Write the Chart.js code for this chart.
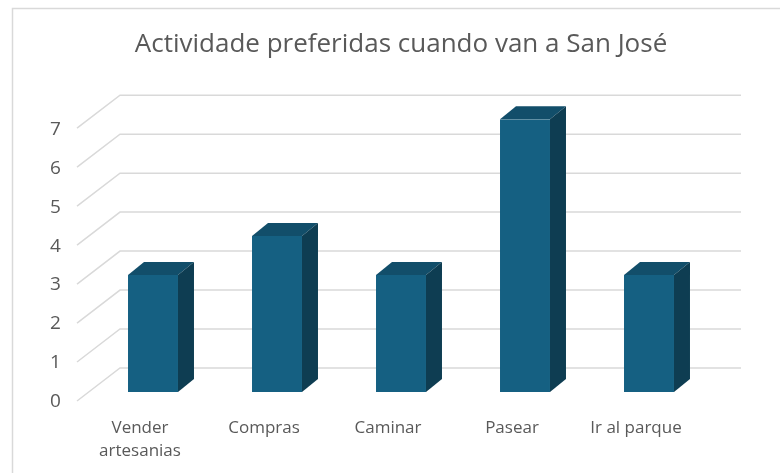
<!DOCTYPE html>
<html>
<head>
<meta charset="utf-8">
<script src="https://cdn.jsdelivr.net/npm/chart.js@4"></script>
<style>
  html, body { margin: 0; padding: 0; background: #ffffff; }
  #wrap { width: 780px; height: 473px; position: relative; }
</style>
</head>
<body>
<div id="wrap"><canvas id="chart"></canvas></div>
<script>
  'use strict';

  const categories = [['Vender', 'artesanias'], 'Compras', 'Caminar', 'Pasear', 'Ir al parque'];
  const counts = [3, 4, 3, 7, 3];
  const yTicks = [0, 1, 2, 3, 4, 5, 6, 7];

  const TEXT = '#595959';
  const GRID = '#d9d9d9';
  const FRONT = '#156082';
  const TOP = '#124e6a';
  const SIDE = '#0e3d52';
  const DEPTH_X = 16;
  const DEPTH_Y = -13;

  // light frame of the chart box, cut off at right and bottom
  const framePlugin = {
    id: 'frame',
    beforeDraw: function (chart) {
      const ctx = chart.ctx;
      ctx.save();
      ctx.strokeStyle = GRID;
      ctx.lineWidth = 1.5;
      ctx.beginPath();
      ctx.moveTo(12.5, chart.height);
      ctx.lineTo(12.5, 8.5);
      ctx.lineTo(chart.width, 8.5);
      ctx.stroke();
      ctx.restore();
    },
  };

  // 3D walls: left wall diagonals and back wall lines for every y tick
  const wallPlugin = {
    id: 'walls',
    beforeDatasetsDraw: function (chart) {
      const ctx = chart.ctx;
      const y = chart.scales.y;
      const area = chart.chartArea;
      ctx.save();
      ctx.strokeStyle = GRID;
      ctx.lineWidth = 1.5;
      yTicks.forEach(function (v) {
        const py = y.getPixelForValue(v);
        ctx.beginPath();
        ctx.moveTo(area.left - 14, py + 9);
        ctx.lineTo(area.left + 29, py - 24);
        ctx.lineTo(area.right + 30, py - 24);
        ctx.stroke();
      });
      ctx.restore();
    },
  };

  // top and side faces of each column
  const columnPlugin = {
    id: 'columns3d',
    afterDatasetsDraw: function (chart) {
      const ctx = chart.ctx;
      const meta = chart.getDatasetMeta(0);
      ctx.save();
      meta.data.forEach(function (bar) {
        const p = bar.getProps(['x', 'y', 'base', 'width'], true);
        const l = p.x - p.width / 2;
        const r = p.x + p.width / 2;
        ctx.fillStyle = TOP;
        ctx.beginPath();
        ctx.moveTo(l, p.y);
        ctx.lineTo(l + DEPTH_X, p.y + DEPTH_Y);
        ctx.lineTo(r + DEPTH_X, p.y + DEPTH_Y);
        ctx.lineTo(r, p.y);
        ctx.closePath();
        ctx.fill();
        ctx.fillStyle = SIDE;
        ctx.beginPath();
        ctx.moveTo(r, p.y);
        ctx.lineTo(r + DEPTH_X, p.y + DEPTH_Y);
        ctx.lineTo(r + DEPTH_X, p.base + DEPTH_Y);
        ctx.lineTo(r, p.base);
        ctx.closePath();
        ctx.fill();
      });
      ctx.restore();
    },
  };

  new Chart(document.getElementById('chart'), {
    type: 'bar',
    data: {
      labels: categories,
      datasets: [
        {
          label: 'Actividades',
          data: counts,
          backgroundColor: FRONT,
          borderWidth: 0,
          categoryPercentage: 1,
          barPercentage: 0.403,
        },
      ],
    },
    options: {
      responsive: true,
      maintainAspectRatio: false,
      animation: false,
      layout: { padding: { left: 91, right: 69, top: 0, bottom: 0 } },
      plugins: {
        legend: { display: false },
        tooltip: { enabled: false },
        title: {
          display: true,
          text: 'Actividade preferidas cuando van a San José',
          color: TEXT,
          font: { family: '"Open Sans", sans-serif', size: 26, weight: 'normal' },
          padding: { top: 29, bottom: 59 },
        },
      },
      scales: {
        x: {
          grid: { display: false, drawTicks: false },
          border: { display: false },
          ticks: {
            color: TEXT,
            font: { family: '"Open Sans", sans-serif', size: 17, lineHeight: 1.35 },
            labelOffset: -13,
            padding: 25,
            maxRotation: 0,
            autoSkip: false,
          },
          afterFit: function (scale) { scale.height = 81; },
        },
        y: {
          min: 0,
          max: 7,
          grid: { display: false, drawTicks: false },
          border: { display: false },
          ticks: {
            stepSize: 1,
            color: TEXT,
            font: { family: '"Open Sans", sans-serif', size: 19 },
            labelOffset: 10,
            mirror: true,
            padding: -41,
          },
          afterFit: function (scale) { scale.width = 0; },
        },
      },
    },
    plugins: [framePlugin, wallPlugin, columnPlugin],
  });
</script>
</body>
</html>
